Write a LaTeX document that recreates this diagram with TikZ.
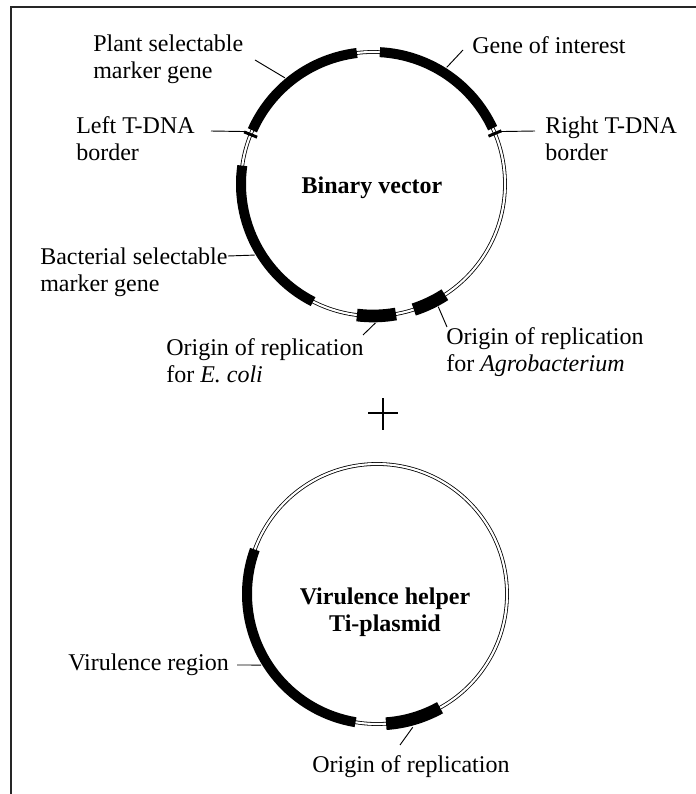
\documentclass[tikz,border=0pt]{standalone}
\usepackage{fontspec}
\setmainfont{Liberation Serif}
\usetikzlibrary{calc}
\tikzset{
  dna/.style={draw, double, line width=0.6pt, double distance=1.6pt},
  gene/.style={line width=7.5pt},
  ori/.style={line width=9.5pt},
  tdna/.style={line width=2.2pt},
  lead/.style={line width=0.7pt},
  lbl/.style={align=left, anchor=west, inner sep=0pt, font=\fontsize{18}{20.5}\selectfont},
  title/.style={align=center, inner sep=0pt, font=\fontsize{18}{20.5}\selectfont\bfseries},
}

\begin{document}
\begin{tikzpicture}[x=0.75pt,y=0.75pt]
\useasboundingbox (0,0) rectangle (696,794);
\draw[gray!30!black, line width=1.5pt] (11,-2) -- (11,787) -- (698,787);

\coordinate (c1) at (373,610);
\coordinate (c2) at (377,200);

% binary vector
\draw[dna] (c1) circle (132);
\draw[gene] (c1) ++(156:132) arc (156:97:132);
\draw[gene] (c1) ++(87:132) arc (87:25:132);
\draw[gene] (c1) ++(172:132) arc (172:243:132);
\draw[ori] (c1) ++(263:132) arc (263:280:132);
\draw[ori] (c1) ++(288:132) arc (288:303:132);
\draw[tdna] ($(c1)+(158:125)$) -- ($(c1)+(158:139)$);
\draw[tdna] ($(c1)+(22.5:125)$) -- ($(c1)+(22.5:139)$);

\node[title] (bvec) at (372,606) {Binary vector};
\node[lbl] (plant) at (93,735) {Plant selectable\\marker gene};
\node[lbl] (goi) at (472,749) {Gene of interest};
\node[lbl] (lbord) at (76,655) {Left T-DNA\\border};
\node[lbl] (rbord) at (545,655) {Right T-DNA\\border};
\node[lbl] (bact) at (40,522) {Bacterial selectable\\marker gene};
\node[lbl] (oriE) at (166,433) {Origin of replication\\for \textit{E. coli}};
\node[lbl] (oriA) at (446,442) {Origin of replication\\for \textit{Agrobacterium}};

\coordinate (plantA) at (255,734);
\coordinate (plantB) at ($(c1)+(129.7:138)$);
\coordinate (goiA) at (463,744);
\coordinate (goiB) at ($(c1)+(57.7:138)$);
\coordinate (lbordA) at (211,663);
\coordinate (lbordB) at ($(c1)+(157.5:137)$);
\coordinate (rbordA) at (535,663);
\coordinate (rbordB) at ($(c1)+(22.5:137)$);
\coordinate (bactA) at (228,538);
\coordinate (bactB) at ($(c1)+(211:138)$);
\coordinate (oriEA) at (363,459);
\coordinate (oriEB) at ($(c1)+(271:139)$);
\coordinate (oriAA) at (447,467);
\coordinate (oriAB) at ($(c1)+(298:139)$);
\draw[lead] (plantA) -- (plantB);
\draw[lead] (goiA) -- (goiB);
\draw[lead] (lbordA) -- (lbordB);
\draw[lead] (rbordA) -- (rbordB);
\draw[lead] (bactA) -- (bactB);
\draw[lead] (oriEA) -- (oriEB);
\draw[lead] (oriAA) -- (oriAB);

% plus
\draw[line width=1.5pt] (368,381) -- (398,381);
\draw[line width=1.5pt] (383,364) -- (383,396);

% helper plasmid
\draw[dna] (c2) circle (130);
\draw[gene] (c2) ++(160:130) arc (160:260.5:130);
\draw[ori] (c2) ++(274:130) arc (274:299:130);

\node[title] (helper) at (385,182) {Virulence helper\\Ti-plasmid};
\node[lbl] (vir) at (68,129) {Virulence region};
\node[lbl] (ori2) at (312,27) {Origin of replication};

\coordinate (virA) at (237,129);
\coordinate (virB) at ($(c2)+(211.5:136)$);
\coordinate (ori2A) at (400,49);
\coordinate (ori2B) at ($(c2)+(285:138)$);
\draw[lead] (virA) -- (virB);
\draw[lead] (ori2A) -- (ori2B);

\end{tikzpicture}
\end{document}
